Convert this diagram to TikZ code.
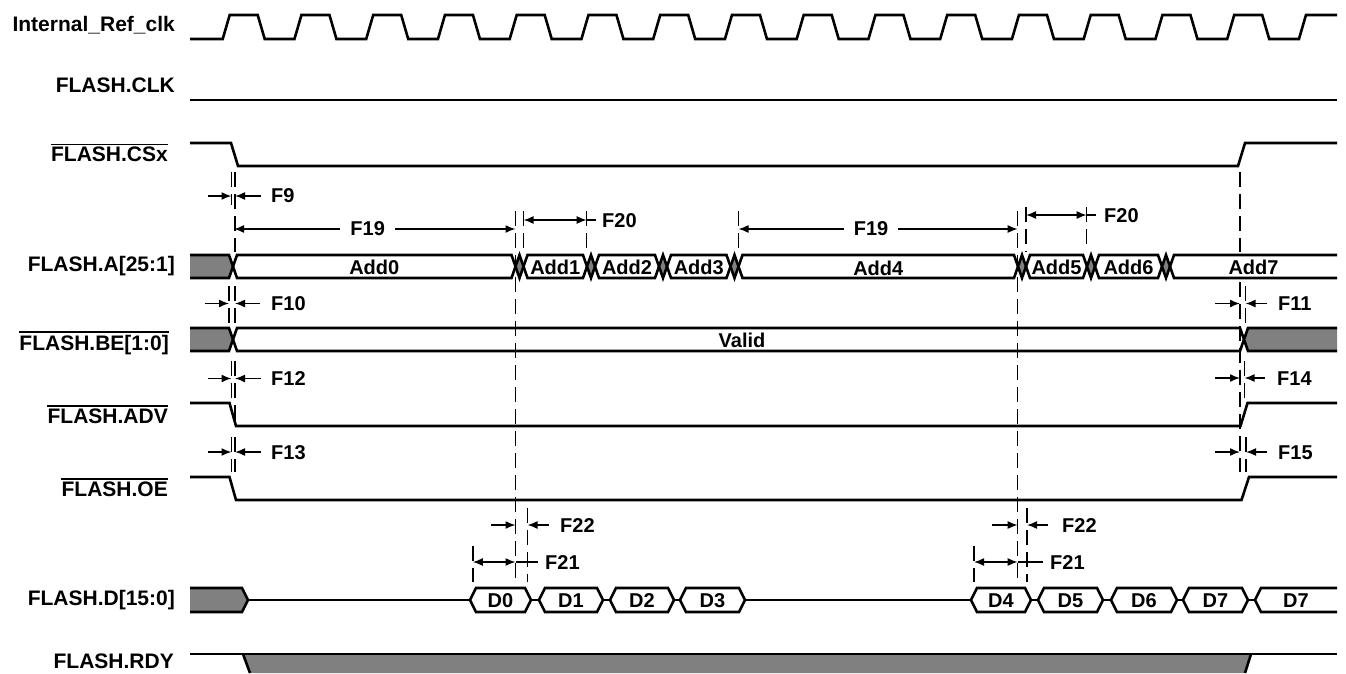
\documentclass[tikz,border=0pt]{standalone}
\usepackage{fontspec}
\setmainfont{Liberation Sans}
\usepackage{tikz}
\usetikzlibrary{arrows.meta}
\tikzset{>={Latex[width=8pt,length=10pt]}}
\usepackage{xcolor}
\definecolor{busgray}{HTML}{808080}
\tikzset{
	wave/.style={line width=2.6pt, line join=miter},
	midwire/.style={line width=1.8pt},
	guide/.style={line width=1.4pt, dash pattern=on 15pt off 7pt},
	dim/.style={line width=1.5pt},
	siglabel/.style={anchor=base east, inner sep=0pt, font=\fontsize{21}{22}\selectfont\bfseries},
	tlabel/.style={anchor=west, inner sep=0pt, font=\fontsize{20}{21}\selectfont\bfseries},
	buslabel/.style={inner sep=0pt, font=\fontsize{20}{21}\selectfont\bfseries},
}

\begin{document}
\begin{tikzpicture}[x=1pt,y=-1pt]
		\useasboundingbox (0,0) rectangle (1346,673);
		\begin{scope}
			%signal names
			\node[siglabel] (refclk) at (175,31.5) {Internal\_Ref\_clk};
			\node[siglabel] (flclk) at (175,92.7) {FLASH.CLK};
			\node[siglabel] (flcs) at (168,161.7) {FLASH.CSx};
			\node[siglabel] (fladdr) at (175,271.5) {FLASH.A[25:1]};
			\node[siglabel] (flbe) at (169,350) {FLASH.BE[1:0]};
			\node[siglabel] (fladv) at (168,423.3) {FLASH.ADV};
			\node[siglabel] (floe) at (168,496.5) {FLASH.OE};
			\node[siglabel] (fldata) at (175,605) {FLASH.D[15:0]};
			\node[siglabel] (flrdy) at (174,668.3) {FLASH.RDY};
			%active low bars
			\draw[dim] ([yshift=2.5pt]flcs.north west) -- ([yshift=2.5pt]flcs.north east);
			\draw[dim] ([yshift=2.5pt]flbe.north west) -- ([yshift=2.5pt]flbe.north east);
			\draw[dim] ([yshift=2.5pt]fladv.north west) -- ([yshift=2.5pt]fladv.north east);
			\draw[dim] ([yshift=2.5pt]floe.north west) -- ([yshift=2.5pt]floe.north east);
		\end{scope}
		\begin{scope}
			%internal clock
			\draw[wave] (190,39) -- (222.7,39)
				-- ++(7,-24) -- ++(28,0) -- ++(7,24) -- ++(29.75,0) -- ++(7,-24) -- ++(28,0) -- ++(7,24) -- ++(29.75,0)
				-- ++(7,-24) -- ++(28,0) -- ++(7,24) -- ++(29.75,0) -- ++(7,-24) -- ++(28,0) -- ++(7,24) -- ++(29.75,0)
				-- ++(7,-24) -- ++(28,0) -- ++(7,24) -- ++(29.75,0) -- ++(7,-24) -- ++(28,0) -- ++(7,24) -- ++(29.75,0)
				-- ++(7,-24) -- ++(28,0) -- ++(7,24) -- ++(29.75,0) -- ++(7,-24) -- ++(28,0) -- ++(7,24) -- ++(29.75,0)
				-- ++(7,-24) -- ++(28,0) -- ++(7,24) -- ++(29.75,0) -- ++(7,-24) -- ++(28,0) -- ++(7,24) -- ++(29.75,0)
				-- ++(7,-24) -- ++(28,0) -- ++(7,24) -- ++(29.75,0) -- ++(7,-24) -- ++(28,0) -- ++(7,24) -- ++(29.75,0)
				-- ++(7,-24) -- ++(28,0) -- ++(7,24) -- ++(29.75,0) -- ++(7,-24) -- ++(28,0) -- ++(7,24) -- ++(29.75,0)
				-- ++(7,-24) -- ++(28,0) -- ++(7,24) -- ++(29.75,0)
				-- ++(7,-24) -- (1337,15);
			%flash clock
			\draw[wave] (190,100) -- (1337,100);
			%chip select
			\draw[wave] (190,143) -- (231,143) -- (238,166) -- (1238,166) -- (1245,143) -- (1337,143);
			%address valid
			\draw[wave] (190,403) -- (229.5,403) -- (236,426) -- (1240.5,426) -- (1247.5,403) -- (1337,403);
			%output enable
			\draw[wave] (190,477) -- (229.5,477) -- (236,500) -- (1241.5,500) -- (1249,477) -- (1337,477);
		\end{scope}
		\begin{scope}
			%address bus
			\fill[busgray] (190,255) -- (229,255) -- (233,266.5) -- (229,278) -- (190,278) -- cycle;
			\draw[wave] (190,255) -- (229,255) -- (233,266.5) -- (229,278) -- (190,278);
			\draw[wave] (233,266.5) -- (237,255) -- (511.5,255) -- (515.5,266.5) -- (511.5,278) -- (237,278) -- cycle;
			\draw[wave,fill=busgray] (515.5,266.5) -- (519.5,255) -- (523.5,266.5) -- (519.5,278) -- cycle;
			\draw[wave] (523.5,266.5) -- (527.5,255) -- (583,255) -- (587,266.5) -- (583,278) -- (527.5,278) -- cycle;
			\draw[wave,fill=busgray] (587,266.5) -- (591,255) -- (595,266.5) -- (591,278) -- cycle;
			\draw[wave] (595,266.5) -- (599,255) -- (655,255) -- (659,266.5) -- (655,278) -- (599,278) -- cycle;
			\draw[wave,fill=busgray] (659,266.5) -- (663,255) -- (667,266.5) -- (663,278) -- cycle;
			\draw[wave] (667,266.5) -- (671,255) -- (726.5,255) -- (730.5,266.5) -- (726.5,278) -- (671,278) -- cycle;
			\draw[wave,fill=busgray] (730.5,266.5) -- (734.5,255) -- (738.5,266.5) -- (734.5,278) -- cycle;
			\draw[wave] (738.5,266.5) -- (742.5,255) -- (1014,255) -- (1018,266.5) -- (1014,278) -- (742.5,278) -- cycle;
			\draw[wave,fill=busgray] (1018,266.5) -- (1022,255) -- (1026,266.5) -- (1022,278) -- cycle;
			\draw[wave] (1026,266.5) -- (1030,255) -- (1083,255) -- (1087,266.5) -- (1083,278) -- (1030,278) -- cycle;
			\draw[wave,fill=busgray] (1087,266.5) -- (1091,255) -- (1095,266.5) -- (1091,278) -- cycle;
			\draw[wave] (1095,266.5) -- (1099,255) -- (1158,255) -- (1162,266.5) -- (1158,278) -- (1099,278) -- cycle;
			\draw[wave,fill=busgray] (1162,266.5) -- (1166,255) -- (1170,266.5) -- (1166,278) -- cycle;
			\draw[wave] (1337,255) -- (1174,255) -- (1170,266.5) -- (1174,278) -- (1337,278);
			\node[buslabel] (add0) at (374.25,267) {Add0};
			\node[buslabel] (add1) at (555.25,267) {Add1};
			\node[buslabel] (add2) at (627,267) {Add2};
			\node[buslabel] (add3) at (698.75,267) {Add3};
			\node[buslabel] (add4) at (878.25,268.5) {Add4};
			\node[buslabel] (add5) at (1056.5,267) {Add5};
			\node[buslabel] (add6) at (1128.5,267) {Add6};
			\node[buslabel] (add7) at (1253.5,267) {Add7};
			%byte enables
			\fill[busgray] (190,328) -- (229,328) -- (233,339.5) -- (229,351) -- (190,351) -- cycle;
			\draw[wave] (190,328) -- (229,328) -- (233,339.5) -- (229,351) -- (190,351);
			\draw[wave] (233,339.5) -- (237,328) -- (1240,328) -- (1244,339.5) -- (1240,351) -- (237,351) -- cycle;
			\fill[busgray] (1244,339.5) -- (1248,328) -- (1337,328) -- (1337,351) -- (1248,351) -- cycle;
			\draw[wave] (1337,328) -- (1248,328) -- (1244,339.5) -- (1248,351) -- (1337,351);
			\node[buslabel] (valid) at (742,340.5) {Valid};
			%data bus
			\fill[busgray] (190,588) -- (242,588) -- (248,600) -- (242,612) -- (190,612) -- cycle;
			\draw[wave] (190,588) -- (242,588) -- (248,600) -- (242,612) -- (190,612);
			\draw[midwire] (248,600) -- (470,600);
			\draw[wave] (470,600) -- (476,588) -- (525,588) -- (531,600) -- (525,612) -- (476,612) -- cycle;
			\draw[midwire] (531,600) -- (539,600);
			\draw[wave] (539,600) -- (545,588) -- (597,588) -- (603,600) -- (597,612) -- (545,612) -- cycle;
			\draw[midwire] (603,600) -- (610,600);
			\draw[wave] (610,600) -- (616,588) -- (668,588) -- (674,600) -- (668,612) -- (616,612) -- cycle;
			\draw[midwire] (674,600) -- (680,600);
			\draw[wave] (680,600) -- (686,588) -- (739,588) -- (745,600) -- (739,612) -- (686,612) -- cycle;
			\draw[midwire] (745,600) -- (971,600);
			\draw[wave] (971,600) -- (977,588) -- (1025,588) -- (1031,600) -- (1025,612) -- (977,612) -- cycle;
			\draw[midwire] (1031,600) -- (1038,600);
			\draw[wave] (1038,600) -- (1044,588) -- (1097,588) -- (1103,600) -- (1097,612) -- (1044,612) -- cycle;
			\draw[midwire] (1103,600) -- (1111,600);
			\draw[wave] (1111,600) -- (1117,588) -- (1171,588) -- (1177,600) -- (1171,612) -- (1117,612) -- cycle;
			\draw[midwire] (1177,600) -- (1183,600);
			\draw[wave] (1183,600) -- (1189,588) -- (1242,588) -- (1248,600) -- (1242,612) -- (1189,612) -- cycle;
			\draw[midwire] (1248,600) -- (1255,600);
			\draw[wave] (1337,588) -- (1261,588) -- (1255,600) -- (1261,612) -- (1337,612);
			\node[buslabel] (d0) at (500.5,601) {D0};
			\node[buslabel] (d1) at (571,601) {D1};
			\node[buslabel] (d2) at (642,601) {D2};
			\node[buslabel] (d3) at (712.5,601) {D3};
			\node[buslabel] (d4) at (1001,601) {D4};
			\node[buslabel] (d5) at (1070.5,601) {D5};
			\node[buslabel] (d6) at (1144,601) {D6};
			\node[buslabel] (d7a) at (1215.5,601) {D7};
			\node[buslabel] (d7b) at (1296,601) {D7};
			%ready
			\fill[busgray] (243,654) -- (1251,654) -- (1245,673) -- (250,673) -- cycle;
			\draw[wave] (190,654) -- (1337,654);
			\draw[wave] (243,654) -- (250,673);
			\draw[wave] (1251,654) -- (1245,673);
		\end{scope}
		\begin{scope}
			%guide lines
			\draw[guide] (231.5,172) -- (231.5,205);
			\draw[guide] (235,172) -- (235,252);
			\draw[guide] (229,286) -- (229,326);
			\draw[guide] (235,286) -- (235,326);
			\draw[guide] (231.5,361) -- (231.5,398);
			\draw[guide] (235,361) -- (235,425);
			\draw[guide] (231.5,437) -- (231.5,472);
			\draw[guide] (235,437) -- (235,472);
			\draw[guide] (515.5,211) -- (515.5,582);
			\draw[guide] (523.5,211) -- (523.5,252);
			\draw[guide] (586.7,211) -- (586.7,250);
			\draw[guide] (738.5,211) -- (738.5,250);
			\draw[guide] (1017.7,211) -- (1017.7,582);
			\draw[guide] (1026,207) -- (1026,252);
			\draw[guide] (1086.7,207) -- (1086.7,250);
			\draw[guide] (1240,172) -- (1240,252);
			\draw[guide] (1240,282) -- (1240,472);
			\draw[guide] (1245.5,286) -- (1245.5,326);
			\draw[guide] (1244.5,361) -- (1244.5,398);
			\draw[guide] (1246,437) -- (1246,472);
			\draw[guide] (472.8,546) -- (472.8,582);
			\draw[guide] (527.5,508) -- (527.5,582);
			\draw[guide] (974,546) -- (974,582);
			\draw[guide] (1027,508) -- (1027,582);
			%F9 to F15
			\draw[dim,arrows=->] (208,196) -- (231.5,196);
			\draw[dim,arrows=<-] (235,196) -- (261,196);
			\node[tlabel] (f9) at (271,196) {F9};
			\draw[dim,arrows=->] (205,303.5) -- (229,303.5);
			\draw[dim,arrows=<-] (235,303.5) -- (260,303.5);
			\node[tlabel] (f10) at (271,304) {F10};
			\draw[dim,arrows=->] (1215,303.5) -- (1240,303.5);
			\draw[dim,arrows=<-] (1245.5,303.5) -- (1267,303.5);
			\node[tlabel] (f11) at (1278,304) {F11};
			\draw[dim,arrows=->] (208,378.5) -- (231.5,378.5);
			\draw[dim,arrows=<-] (235,378.5) -- (260.5,378.5);
			\node[tlabel] (f12) at (271,379) {F12};
			\draw[dim,arrows=->] (1215,378) -- (1240,378);
			\draw[dim,arrows=<-] (1244.5,378) -- (1265,378);
			\node[tlabel] (f14) at (1277,378.5) {F14};
			\draw[dim,arrows=->] (208,452) -- (231.5,452);
			\draw[dim,arrows=<-] (235,452) -- (260.5,452);
			\node[tlabel] (f13) at (271,452.5) {F13};
			\draw[dim,arrows=->] (1215,452) -- (1240,452);
			\draw[dim,arrows=<-] (1246,452) -- (1267,452);
			\node[tlabel] (f15) at (1278,452.5) {F15};
			%F19 and F20
			\draw[dim,arrows=<->] (234,229) -- (515.5,229) node[tlabel, anchor=center, fill=white, inner xsep=10pt, pos=0.475] (f19a) {F19};
			\draw[dim,arrows=<->] (738.5,229) -- (1017.7,229) node[tlabel, anchor=center, fill=white, inner xsep=10pt, pos=0.475] (f19b) {F19};
			\draw[dim,arrows=<->] (523.5,220) -- (586.7,220);
			\draw[dim] (586.7,220) -- (596,220);
			\node[tlabel] (f20a) at (602,220.5) {F20};
			\draw[dim,arrows=<->] (1026,215) -- (1086.7,215);
			\draw[dim] (1086.7,215) -- (1096,215);
			\node[tlabel] (f20b) at (1104,215.5) {F20};
			%F21 and F22
			\draw[dim,arrows=->] (491,525) -- (515.5,525);
			\draw[dim,arrows=<-] (527.5,525) -- (549,525);
			\node[tlabel] (f22a) at (560,525.5) {F22};
			\draw[dim,arrows=<->] (472.8,562) -- (515.5,562);
			\draw[dim] (515.5,562) -- (538,562);
			\node[tlabel] (f21a) at (545,562.5) {F21};
			\draw[dim,arrows=->] (992,525) -- (1017.7,525);
			\draw[dim,arrows=<-] (1027,525) -- (1048,525);
			\node[tlabel] (f22b) at (1062,525.5) {F22};
			\draw[dim,arrows=<->] (974,562) -- (1017.7,562);
			\draw[dim] (1017.7,562) -- (1043,562);
			\node[tlabel] (f21b) at (1050,562.5) {F21};
		\end{scope}
	\end{tikzpicture}
\end{document}
